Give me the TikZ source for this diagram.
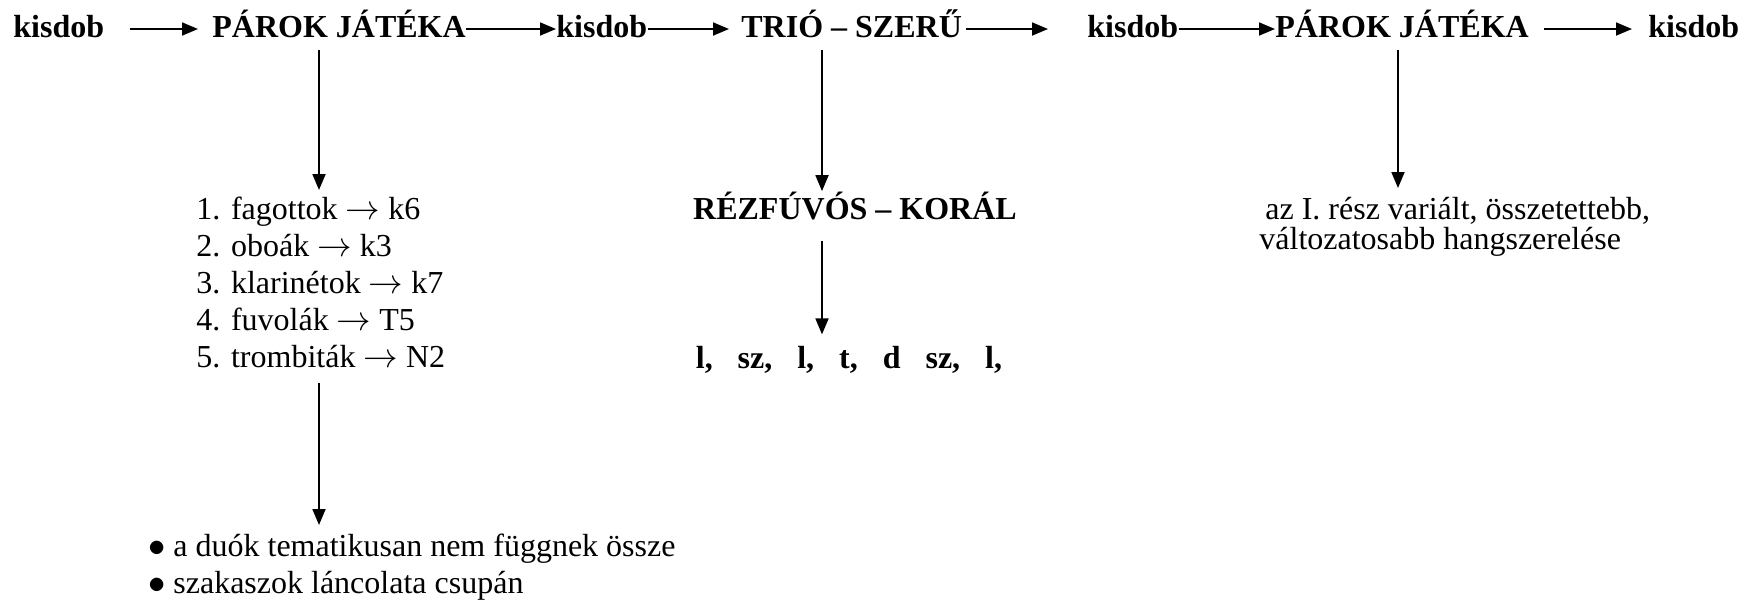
\documentclass[tikz,border=0pt]{standalone}
\usepackage{fontspec}
\setmainfont{Liberation Serif}
\usetikzlibrary{arrows.meta}

\begin{document}
\begin{tikzpicture}[x=0.5pt,y=-0.5pt,
    head/.style={font=\fontsize{16}{18.4}\selectfont\bfseries,inner sep=0pt,
      text height=8pt,text depth=0pt,anchor=base west},
    boldtext/.style={font=\fontsize{16}{18.4}\selectfont\bfseries,inner sep=0pt},
    plain/.style={font=\fontsize{16}{18.4}\selectfont,inner sep=0pt},
    arr/.style={-{Triangle[length=8pt,width=6.5pt]},line width=0.9pt}]
        \useasboundingbox (0,0) rectangle (1753,601);

        % Top row
        \node[head] (k1) at (13,37) {kisdob};
        \node[head] (p1) at (212,37) {PÁROK JÁTÉKA};
        \node[head] (k2) at (556,37) {kisdob};
        \node[head] (t)  at (741,37) {TRIÓ – SZERŰ};
        \node[head] (k3) at (1087,37) {kisdob};
        \node[head] (p2) at (1275,37) {PÁROK JÁTÉKA};
        \node[head] (k4) at (1648,37) {kisdob};

        \draw[arr,shorten <=12.5pt,shorten >=7pt] (k1) -- (p1);
        \draw[arr] (p1) -- (k2);
        \draw[arr,shorten >=6pt] (k2) -- (t);
        \draw[arr,shorten <=2pt,shorten >=19.5pt] (t) -- (k3);
        \draw[arr] (k3) -- (p2);
        \draw[arr,shorten <=7.5pt,shorten >=8pt] (p2) -- (k4);

        % Párok játéka
        \node[plain,align=left,anchor=north west] (li) at (196,197)
          {1. fagottok $\rightarrow$ k6\\2. oboák $\rightarrow$ k3\\3. klarinétok $\rightarrow$ k7\\
           4. fuvolák $\rightarrow$ T5\\5. trombiták $\rightarrow$ N2};
        \node[plain,align=left,anchor=north west] (bul) at (148,534)
          {\makebox[12.5pt][l]{$\bullet$}a duók tematikusan nem függnek össze\\
           \makebox[12.5pt][l]{$\bullet$}szakaszok láncolata csupán};
        \coordinate (d1) at (319,50);
        \coordinate (d2) at (319,383);
        \draw[arr,shorten >=3.5pt] (d1) -- (d1 |- li.north);
        \draw[arr,shorten >=4.5pt] (d2) -- (d2 |- bul.north);

        % Trió
        \node[boldtext,anchor=base] (kor) at (855,219) {RÉZFÚVÓS – KORÁL};
        \node[boldtext,anchor=base] (seq) at (849,368)
          {l,\hspace{0.78em}sz,\hspace{0.78em}l,\hspace{0.78em}t,\hspace{0.78em}d\hspace{0.78em}sz,\hspace{0.78em}l,};
        \coordinate (d3) at (822,50);
        \draw[arr] (d3) -- (d3 |- kor.north);
        \draw[arr,shorten <=10.5pt,shorten >=5.5pt] (kor.south -| d3) -- (seq.north -| d3);

        % Párok játéka, variált
        \node[plain,font=\fontsize{16}{15}\selectfont,align=left,anchor=north west] (var) at (1259,197)
          {\hspace{3pt}az I. rész variált, összetettebb,\\változatosabb hangszerelése};
        \coordinate (d4) at (1398,50);
        \draw[arr,shorten >=4.5pt] (d4) -- (d4 |- var.north);
\end{tikzpicture}
\end{document}
